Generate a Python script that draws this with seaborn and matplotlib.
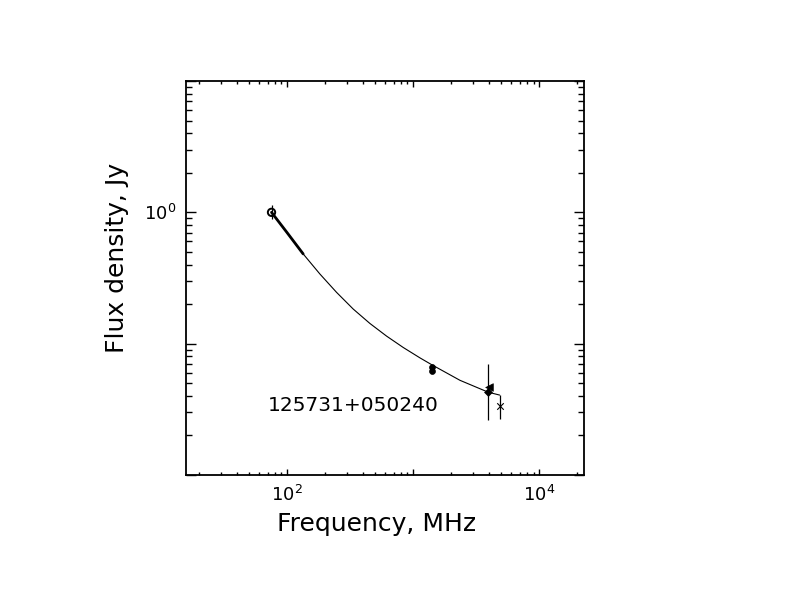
import numpy as np
import pandas as pd
import matplotlib
matplotlib.use("Agg")
import matplotlib.pyplot as plt
import matplotlib.ticker as mticker
import seaborn as sns

# ---- data ----
curve_freq = [75.2, 134.0, 181.8, 246.6, 334.3, 453.2, 614.6, 833.9, 1130, 1400, 2349, 3936, 4850]
curve_flux = [1.0, 0.4826, 0.3395, 0.2459, 0.1835, 0.1426, 0.1142, 0.0935, 0.0780, 0.0692,
              0.0526, 0.0427, 0.0406]

thick_freq = [75.2, 100, 134.0]
thick_flux = [1.0, 0.70, 0.4826]

open_freq = [75.2]
open_flux = [1.0]
open_lo = [0.895]
open_hi = [1.131]

nvss_freq = [1400, 1400]
nvss_flux = [0.0662, 0.0622]

ratan_freq = [3936]
ratan_flux = [0.0427]
ratan_lo = [0.0263]
ratan_hi = [0.0695]

tri_freq = [3990]
tri_flux = [0.0468]

x_freq = [4850]
x_flux = [0.0338]
x_lo = [0.0268]
x_hi = [0.0406]

source_name = "125731+050240"
xlabels = {100: r"$10^{2}$", 10000: r"$10^{4}$"}
ylabels = {1: r"$10^{0}$"}

# ---- figure ----
sns.set_style("white")
plt.rcParams["font.family"] = ["DejaVu Sans"]
plt.rcParams["mathtext.fontset"] = "dejavusans"
plt.rcParams["text.color"] = "black"
plt.rcParams["axes.labelcolor"] = "black"

fig = plt.figure(figsize=(7.92, 6.12), dpi=100)
ax = fig.add_axes([186/792, 1 - 475/612, (584.3 - 186)/792, (475 - 81)/612])
ax.set_xscale("log")
ax.set_yscale("log")
ax.set_xlim(10**1.198, 10**4.357)
ax.set_ylim(0.01, 10)

curve = pd.DataFrame({"f": curve_freq, "s": curve_flux})
sns.lineplot(data=curve, x="f", y="s", ax=ax, color="black", lw=0.8, sort=False, estimator=None)
sns.lineplot(x=thick_freq, y=thick_flux, ax=ax, color="black", lw=2.0, sort=False, estimator=None)

# error bars
ax.errorbar(open_freq, open_flux,
            yerr=[np.subtract(open_flux, open_lo), np.subtract(open_hi, open_flux)],
            fmt="none", ecolor="black", elinewidth=0.9, capsize=0)
ax.errorbar(ratan_freq, ratan_flux,
            yerr=[np.subtract(ratan_flux, ratan_lo), np.subtract(ratan_hi, ratan_flux)],
            fmt="none", ecolor="black", elinewidth=0.9, capsize=0)
ax.errorbar(x_freq, x_flux,
            yerr=[np.subtract(x_flux, x_lo), np.subtract(x_hi, x_flux)],
            fmt="none", ecolor="black", elinewidth=0.9, capsize=0)

sns.scatterplot(x=open_freq, y=open_flux, ax=ax, marker="o", s=28,
                facecolor="none", edgecolor="black", linewidth=1.4, zorder=5)
sns.scatterplot(x=nvss_freq, y=nvss_flux, ax=ax, marker="o", s=18,
                color="black", edgecolor="black", linewidth=0.5, zorder=5)
sns.scatterplot(x=ratan_freq, y=ratan_flux, ax=ax, marker="D", s=16,
                color="black", edgecolor="black", linewidth=0.5, zorder=5)
sns.scatterplot(x=tri_freq, y=tri_flux, ax=ax, marker="<", s=30,
                color="black", edgecolor="black", linewidth=0.5, zorder=5)
sns.scatterplot(x=x_freq, y=x_flux, ax=ax, marker="x", s=22,
                color="black", linewidth=0.8, zorder=5)

ax.text(10**1.845, 10**-1.47, source_name, fontsize=14.5, va="center", ha="left",
        color="black")

# ticks
ax.xaxis.set_major_locator(mticker.LogLocator(base=10, numticks=10))
ax.xaxis.set_minor_locator(mticker.LogLocator(base=10, subs=np.arange(2, 10), numticks=20))
ax.yaxis.set_major_locator(mticker.LogLocator(base=10, numticks=10))
ax.yaxis.set_minor_locator(mticker.LogLocator(base=10, subs=np.arange(2, 10), numticks=20))
ax.xaxis.set_major_formatter(mticker.FuncFormatter(
    lambda v, p: xlabels.get(int(round(v)), "") if v >= 1 else ""))
ax.yaxis.set_major_formatter(mticker.FuncFormatter(
    lambda v, p: ylabels.get(int(round(v)), "") if abs(v - round(v)) < 1e-9 and v >= 1 else ""))
ax.xaxis.set_minor_formatter(mticker.NullFormatter())
ax.yaxis.set_minor_formatter(mticker.NullFormatter())

ax.tick_params(axis="both", which="both", direction="in", top=True, right=True,
               bottom=True, left=True,
               color="black", labelcolor="black", labelsize=13)
ax.tick_params(axis="x", which="major", length=4.5, width=1.0, pad=7)
ax.tick_params(axis="x", which="minor", length=2.5, width=1.0)
ax.tick_params(axis="y", which="major", length=7, width=1.0, pad=7)
ax.tick_params(axis="y", which="minor", length=4, width=1.0)
for sp in ax.spines.values():
    sp.set_color("black")
    sp.set_linewidth(1.3)

ax.set_xlabel("")
ax.set_ylabel("")
fig.text(377/792, 1 - 524/612, "Frequency, MHz", fontsize=18, ha="center", va="center")
fig.text(117/792, 1 - 258/612, "Flux density, Jy", fontsize=18, ha="center", va="center",
         rotation=90)

fig.savefig("out.png", dpi=100, facecolor="white")
